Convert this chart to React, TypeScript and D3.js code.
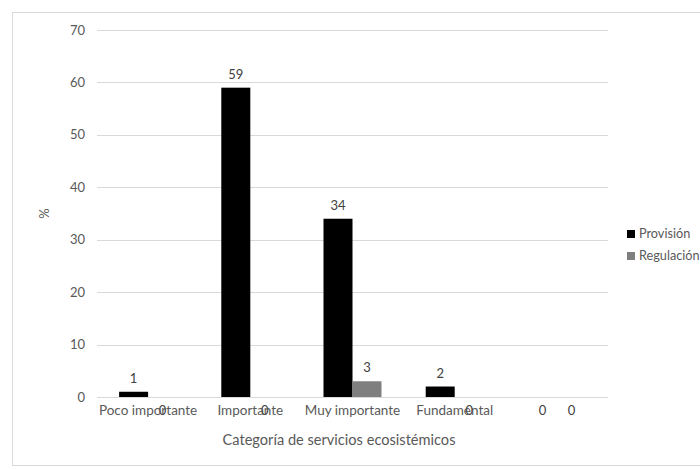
import React, { useEffect, useRef } from "react";
import * as d3 from "d3";

const categories = ["Poco importante", "Importante", "Muy importante", "Fundamental", ""];
const seriesNames = ["Provisión", "Regulación"];
const provision = [1, 59, 34, 2, 0];
const regulacion = [0, 0, 3, 0, 0];
const yTicks = [0, 10, 20, 30, 40, 50, 60, 70];
const colors = ["#000000", "#7f7f7f"];

const App = () => {
  const ref = useRef<HTMLDivElement>(null);

  useEffect(() => {
    const width = 700;
    const height = 469;
    const left = 97;
    const right = 608;
    const top = 30;
    const bottom = 397;
    const font = "Lato, 'Open Sans', sans-serif";

    d3.select(ref.current).selectAll("*").remove();
    const svg = d3
      .select(ref.current)
      .append("svg")
      .attr("width", width)
      .attr("height", height)
      .style("position", "absolute")
      .style("left", "0px")
      .style("top", "0px")
      .style("font-family", font);

    svg.append("rect").attr("width", width).attr("height", height).attr("fill", "#fff");

    // chart border
    svg
      .append("rect")
      .attr("x", 12.5)
      .attr("y", 12.5)
      .attr("width", 720)
      .attr("height", 453)
      .attr("fill", "none")
      .attr("stroke", "#d9d9d9");

    const x = d3.scaleBand().domain(categories.map((c, i) => String(i))).range([left, right]);
    const y = d3.scaleLinear().domain([0, 70]).range([bottom, top]);
    const barW = 29;

    // gridlines
    svg
      .append("g")
      .selectAll("line")
      .data(yTicks)
      .enter()
      .append("line")
      .attr("x1", left)
      .attr("x2", right)
      .attr("y1", (d) => Math.round(y(d)) + 0.5)
      .attr("y2", (d) => Math.round(y(d)) + 0.5)
      .attr("stroke", "#d9d9d9")
      .attr("stroke-width", 1);

    // y tick labels
    svg
      .append("g")
      .selectAll("text")
      .data(yTicks)
      .enter()
      .append("text")
      .attr("x", 85)
      .attr("y", (d) => y(d))
      .attr("dy", "0.35em")
      .attr("text-anchor", "end")
      .style("font-size", "13px")
      .style("fill", "#595959")
      .text((d) => d);

    const series = [provision, regulacion];
    series.forEach((vals, s) => {
      const g = svg.append("g");
      g.selectAll("rect")
        .data(vals)
        .enter()
        .append("rect")
        .attr("x", (d, i) => (x(String(i)) as number) + x.bandwidth() / 2 - barW + s * barW)
        .attr("y", (d) => y(d))
        .attr("width", barW)
        .attr("height", (d) => bottom - y(d))
        .attr("fill", colors[s]);

      g.selectAll("text")
        .data(vals)
        .enter()
        .append("text")
        .attr("x", (d, i) => (x(String(i)) as number) + x.bandwidth() / 2 - barW / 2 + s * barW)
        .attr("y", (d) => (d === 0 ? bottom + 18 : y(d) - 9))
        .attr("text-anchor", "middle")
        .style("font-size", "13px")
        .style("fill", "#404040")
        .text((d) => d);
    });

    // category labels
    svg
      .append("g")
      .selectAll("text")
      .data(categories)
      .enter()
      .append("text")
      .attr("x", (d, i) => (x(String(i)) as number) + x.bandwidth() / 2)
      .attr("y", bottom + 18)
      .attr("text-anchor", "middle")
      .style("font-size", "13.5px")
      .style("fill", "#595959")
      .text((d) => d);

    // axis titles
    svg
      .append("text")
      .attr("x", 339)
      .attr("y", 445)
      .attr("text-anchor", "middle")
      .style("font-size", "14.6px")
      .style("fill", "#595959")
      .text("Categoría de servicios ecosistémicos");

    svg
      .append("text")
      .attr("transform", `translate(44,${(top + bottom) / 2}) rotate(-90)`)
      .attr("text-anchor", "middle")
      .attr("dy", "0.35em")
      .style("font-size", "13px")
      .style("fill", "#595959")
      .text("%");

    // legend
    const legend = svg
      .append("g")
      .selectAll("g")
      .data(seriesNames)
      .enter()
      .append("g")
      .attr("transform", (d, i) => `translate(627,${234 + i * 22})`);
    legend
      .append("rect")
      .attr("x", 0)
      .attr("y", -4)
      .attr("width", 8)
      .attr("height", 8)
      .attr("fill", (d, i) => colors[i]);
    legend
      .append("text")
      .attr("x", 12)
      .attr("y", 0)
      .attr("dy", "0.35em")
      .style("font-size", "12.7px")
      .style("fill", "#595959")
      .text((d) => d);
  }, []);

  return <div ref={ref}></div>;
};

export default App;
